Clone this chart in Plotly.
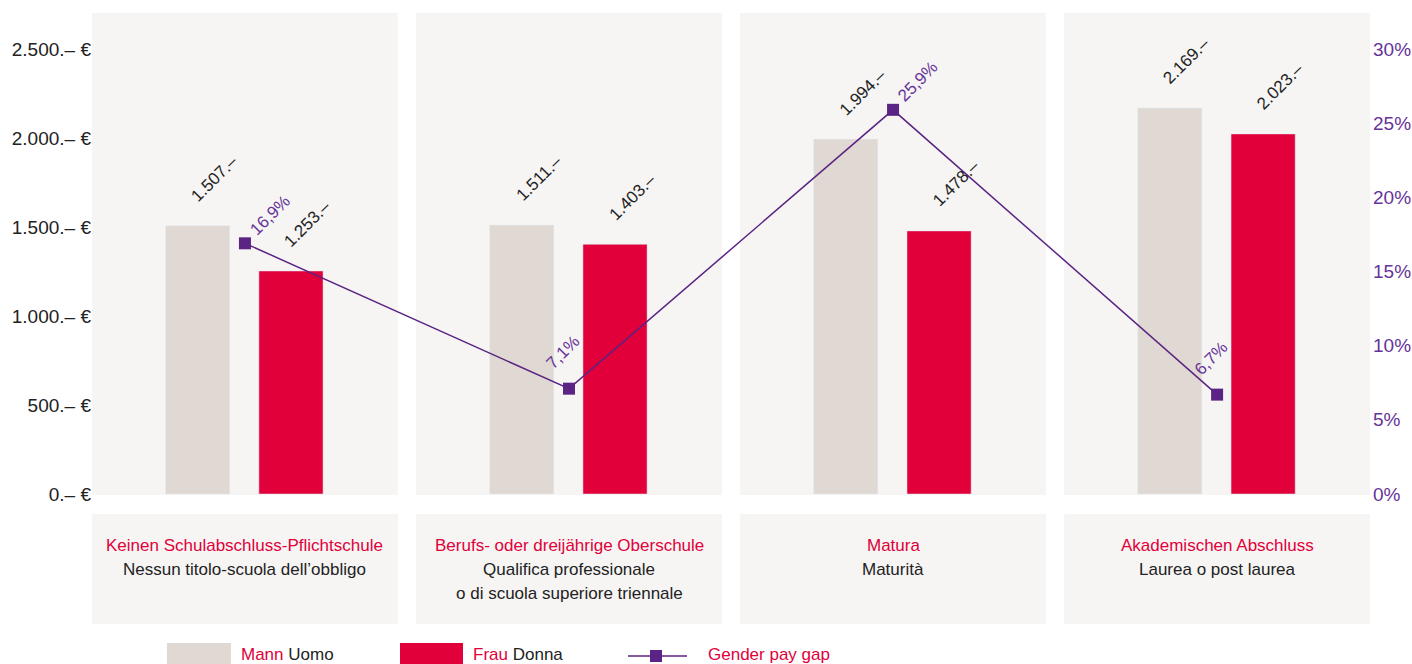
import plotly.graph_objects as go

# ---------------- data ----------------
categories_de = ["Keinen Schulabschluss-Pflichtschule", "Berufs- oder dreijährige Oberschule",
                 "Matura", "Akademischen Abschluss"]
categories_it = [["Nessun titolo-scuola dell’obbligo"],
                 ["Qualifica professionale", "o di scuola superiore triennale"],
                 ["Maturità"], ["Laurea o post laurea"]]
mann = [1507, 1511, 1994, 2169]
frau = [1253, 1403, 1478, 2023]
gap = [16.9, 7.1, 25.9, 6.7]
left_tickvals = [0, 500, 1000, 1500, 2000, 2500]
left_ticktext = ["0.– €", "500.– €", "1.000.– €", "1.500.– €", "2.000.– €", "2.500.– €"]
right_tickvals = [0, 5, 10, 15, 20, 25, 30]
right_ticktext = ["0%", "5%", "10%", "15%", "20%", "25%", "30%"]

# ---------------- style ----------------
RED = "#E1003A"
BEIGE = "#E0D8D2"
PANEL = "#F6F5F4"
PURPLE = "#5B2383"
PURPLE_TXT = "#66339A"
BLACK = "#222222"
FONT = "Liberation Sans"

W, H = 1412, 664
ML, MR, MT, MB = 92, 40, 13, 169
plot_w = W - ML - MR
plot_h = H - MT - MB


def px_x(X):
    return (X - ML) / plot_w


def px_y(Y):
    return (H - MB - Y) / plot_h


xs = list(range(len(mann)))
fmt_eur = lambda v: f"{v:,}".replace(",", ".") + ".–"
fmt_pct = lambda g: f"{g:.1f}".replace(".", ",") + "%"

fig = go.Figure()
BAR_W = 0.198
fig.add_trace(go.Bar(x=xs, y=mann, width=BAR_W, offset=-0.245, marker_color=BEIGE,
                     name="Mann Uomo", hoverinfo="y", showlegend=False))
fig.add_trace(go.Bar(x=xs, y=frau, width=BAR_W, offset=0.043, marker_color=RED,
                     name="Frau Donna", hoverinfo="y", showlegend=False))
fig.add_trace(go.Scatter(x=xs, y=gap, yaxis="y2", mode="lines+markers",
                         line=dict(color=PURPLE, width=1.5),
                         marker=dict(symbol="square", size=12, color=PURPLE),
                         name="Gender pay gap", showlegend=False))

shapes = []
annotations = []
HALF = 0.472
for i in xs:
    # panel background
    shapes.append(dict(type="rect", xref="x", yref="paper", x0=i - HALF, x1=i + HALF,
                       y0=0, y1=1, fillcolor=PANEL, line_width=0, layer="below"))
    # category box
    shapes.append(dict(type="rect", xref="x", yref="paper", x0=i - HALF, x1=i + HALF,
                       y0=px_y(624), y1=px_y(514), fillcolor=PANEL, line_width=0, layer="below"))
    annotations.append(dict(xref="x", yref="paper", x=i, y=px_y(545), xanchor="center", yanchor="middle",
                            showarrow=False, text=categories_de[i],
                            font=dict(family=FONT, size=17, color=RED)))
    for k, line in enumerate(categories_it[i]):
        annotations.append(dict(xref="x", yref="paper", x=i, y=px_y(569 + 24.5 * k), xanchor="center",
                                yanchor="middle", showarrow=False, text=line,
                                font=dict(family=FONT, size=17, color=BLACK)))
    # bar labels
    annotations.append(dict(xref="x", yref="y", x=i - 0.245 + BAR_W / 2, y=mann[i], text=fmt_eur(mann[i]),
                            textangle=-45, showarrow=False, xanchor="center", yanchor="middle",
                            xshift=17, yshift=47, font=dict(family=FONT, size=17, color=BLACK)))
    annotations.append(dict(xref="x", yref="y", x=i + 0.043 + BAR_W / 2, y=frau[i], text=fmt_eur(frau[i]),
                            textangle=-45, showarrow=False, xanchor="center", yanchor="middle",
                            xshift=17, yshift=47, font=dict(family=FONT, size=17, color=BLACK)))
    # gap labels
    peak = i in (0, 2)
    annotations.append(dict(xref="x", yref="y2", x=i, y=gap[i], text=fmt_pct(gap[i]),
                            textangle=-45, showarrow=False, xanchor="center", yanchor="middle",
                            xshift=25 if peak else -6, yshift=28 if peak else 36,
                            font=dict(family=FONT, size=17, color=PURPLE_TXT)))

# manual legend
ly0, ly1 = px_y(H + 10), px_y(643)
lyc = px_y(656)
shapes.append(dict(type="rect", xref="paper", yref="paper", x0=px_x(167), x1=px_x(231),
                   y0=ly0, y1=ly1, fillcolor=BEIGE, line_width=0))
shapes.append(dict(type="rect", xref="paper", yref="paper", x0=px_x(400), x1=px_x(463),
                   y0=ly0, y1=ly1, fillcolor=RED, line_width=0))
shapes.append(dict(type="line", xref="paper", yref="paper", x0=px_x(628), x1=px_x(687),
                   y0=lyc, y1=lyc, line=dict(color=PURPLE, width=1.5)))
shapes.append(dict(type="rect", xref="paper", yref="paper", x0=px_x(650), x1=px_x(662),
                   y0=px_y(662), y1=px_y(650), fillcolor=PURPLE, line_width=0))
for X, txt in [(239, f"<span style='color:{RED}'>Mann</span> Uomo"),
               (471, f"<span style='color:{RED}'>Frau</span> Donna"),
               (706, f"<span style='color:{RED}'>Gender pay gap</span>")]:
    annotations.append(dict(xref="paper", yref="paper", x=px_x(X), y=px_y(654), xanchor="left",
                            yanchor="middle", showarrow=False, text=txt,
                            font=dict(family=FONT, size=17, color=BLACK)))

y_per_px = 2500 / (494 - 49)
p_per_px = 30 / (494 - 49)
fig.update_layout(
    width=W, height=H,
    margin=dict(l=ML, r=MR, t=MT, b=MB, autoexpand=False),
    paper_bgcolor="white", plot_bgcolor="white",
    barmode="overlay", showlegend=False,
    font=dict(family=FONT, size=19, color=BLACK),
    xaxis=dict(range=[-0.472, 3.478], showticklabels=False, showgrid=False, zeroline=False,
               showline=False, ticks="", fixedrange=True),
    yaxis=dict(range=[-1 * y_per_px, (494 - 13) * y_per_px], tickmode="array", tickvals=left_tickvals,
               ticktext=left_ticktext, showgrid=False, zeroline=False, showline=False, ticks="",
               tickfont=dict(family=FONT, size=19, color=BLACK), automargin=False),
    yaxis2=dict(range=[-1 * p_per_px, (494 - 13) * p_per_px], overlaying="y", side="right",
                tickmode="array", tickvals=right_tickvals, ticktext=right_ticktext,
                showgrid=False, zeroline=False,
                showline=False, ticks="", tickfont=dict(family=FONT, size=19, color=PURPLE_TXT),
                automargin=False),
    shapes=shapes, annotations=annotations,
)

fig.write_html("out.html", config={"displayModeBar": False},
               post_script="document.body.style.margin='0';document.body.style.overflow='hidden';")
